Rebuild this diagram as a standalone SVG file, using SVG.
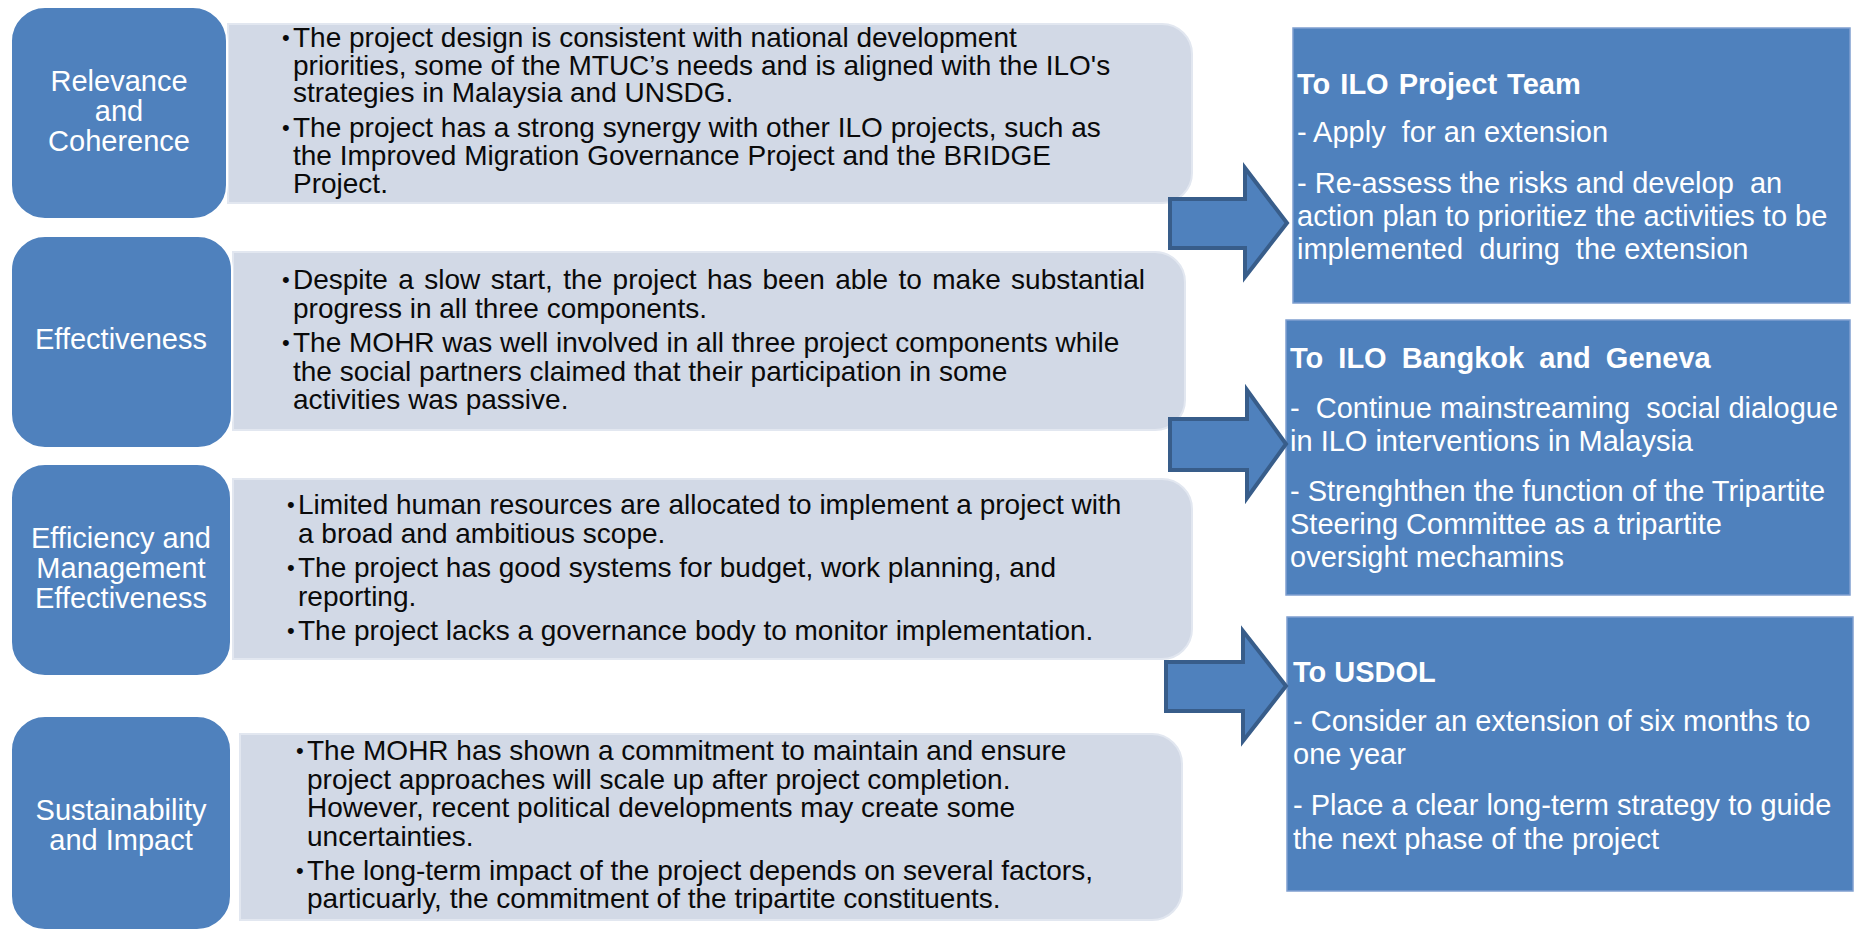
<svg xmlns="http://www.w3.org/2000/svg" width="1859" height="932" viewBox="0 0 1859 932">
  <style>
    .cat { fill: #4F81BD; stroke: #FFFFFF; stroke-width: 2; }
    .detail { fill: #D2D9E6; stroke: #E2E7F0; stroke-width: 2; }
    .rec { fill: #4F81BD; stroke: #7F9FD0; stroke-width: 1.5; }
    .arrow { fill: #4F81BD; stroke: #385D8A; stroke-width: 4; stroke-linejoin: miter; }
    .lbl { font-family: "Liberation Sans", Arial, sans-serif; font-size: 29px; fill: #FFFFFF; text-anchor: middle; }
    .txt { font-family: "Liberation Sans", Arial, sans-serif; font-size: 28px; fill: #0A0A0A; white-space: pre; }
    .bul { font-family: "Liberation Sans", Arial, sans-serif; font-size: 22px; fill: #0A0A0A; }
    .rtxt { font-family: "Liberation Sans", Arial, sans-serif; font-size: 29px; fill: #FFFFFF; white-space: pre; }
    .rhead { font-family: "Liberation Sans", Arial, sans-serif; font-size: 29px; font-weight: bold; fill: #FFFFFF; white-space: pre; }
  </style>
  <rect width="1859" height="932" fill="#FFFFFF"/>

  <!-- detail panels (drawn first so the category tiles sit over their left edge) -->
  <g id="detail-relevance">
    <path class="detail" d="M228,24 H1162 A30,30 0 0 1 1192,54 V173 A30,30 0 0 1 1162,203 H228 Z"/>
    <text class="bul" x="282" y="45">•</text>
    <text class="txt" x="293" y="47">The project design is consistent with national development</text>
    <text class="txt" x="293" y="74.5">priorities, some of the MTUC’s needs and is aligned with the ILO's</text>
    <text class="txt" x="293" y="102">strategies in Malaysia and UNSDG.</text>
    <text class="bul" x="282" y="134.5">•</text>
    <text class="txt" x="293" y="136.5">The project has a strong synergy with other ILO projects, such as</text>
    <text class="txt" x="293" y="164.5">the Improved Migration Governance Project and the BRIDGE</text>
    <text class="txt" x="293" y="192.5">Project.</text>
  </g>

  <g id="detail-effectiveness">
    <path class="detail" d="M233,252 H1155 A30,30 0 0 1 1185,282 V400 A30,30 0 0 1 1155,430 H233 Z"/>
    <text class="bul" x="282" y="287">•</text>
    <text class="txt" x="293" y="289" word-spacing="2.6">Despite a slow start, the project has been able to make substantial</text>
    <text class="txt" x="293" y="318">progress in all three components.</text>
    <text class="bul" x="282" y="350">•</text>
    <text class="txt" x="293" y="352">The MOHR was well involved in all three project components while</text>
    <text class="txt" x="293" y="380.5">the social partners claimed that their participation in some</text>
    <text class="txt" x="293" y="409">activities was passive.</text>
  </g>

  <g id="detail-efficiency">
    <path class="detail" d="M233,479 H1162 A30,30 0 0 1 1192,509 V629 A30,30 0 0 1 1162,659 H233 Z"/>
    <text class="bul" x="287" y="512">•</text>
    <text class="txt" x="298" y="514">Limited human resources are allocated to implement a project with</text>
    <text class="txt" x="298" y="542.5">a broad and ambitious scope.</text>
    <text class="bul" x="287" y="575">•</text>
    <text class="txt" x="298" y="577">The project has good systems for budget, work planning, and</text>
    <text class="txt" x="298" y="605.5">reporting.</text>
    <text class="bul" x="287" y="638">•</text>
    <text class="txt" x="298" y="640">The project lacks a governance body to monitor implementation.</text>
  </g>

  <g id="detail-sustainability">
    <path class="detail" d="M240,734 H1152 A30,30 0 0 1 1182,764 V890 A30,30 0 0 1 1152,920 H240 Z"/>
    <text class="bul" x="296" y="758">•</text>
    <text class="txt" x="307" y="760">The MOHR has shown a commitment to maintain and ensure</text>
    <text class="txt" x="307" y="788.5">project approaches will scale up after project completion.</text>
    <text class="txt" x="307" y="817">However, recent political developments may create some</text>
    <text class="txt" x="307" y="845.5">uncertainties.</text>
    <text class="bul" x="296" y="877.5">•</text>
    <text class="txt" x="307" y="879.5">The long-term impact of the project depends on several factors,</text>
    <text class="txt" x="307" y="908">particuarly, the commitment of the tripartite constituents.</text>
  </g>

  <!-- category tiles -->
  <g id="cat-relevance">
    <rect class="cat" x="11" y="7" width="216" height="212" rx="34"/>
    <text class="lbl" x="119" y="91">Relevance</text>
    <text class="lbl" x="119" y="121">and</text>
    <text class="lbl" x="119" y="151">Coherence</text>
  </g>
  <g id="cat-effectiveness">
    <rect class="cat" x="11" y="236" width="221" height="212" rx="34"/>
    <text class="lbl" x="121" y="349">Effectiveness</text>
  </g>
  <g id="cat-efficiency">
    <rect class="cat" x="11" y="464" width="220" height="212" rx="34"/>
    <text class="lbl" x="121" y="548">Efficiency and</text>
    <text class="lbl" x="121" y="578">Management</text>
    <text class="lbl" x="121" y="608">Effectiveness</text>
  </g>
  <g id="cat-sustainability">
    <rect class="cat" x="11" y="716" width="220" height="214" rx="34"/>
    <text class="lbl" x="121" y="820">Sustainability</text>
    <text class="lbl" x="121" y="850">and Impact</text>
  </g>

  <!-- recommendation boxes -->
  <g id="rec-project-team">
    <rect class="rec" x="1293" y="28" width="557" height="275"/>
    <text class="rhead" x="1297" y="94" word-spacing="2">To ILO Project Team</text>
    <text class="rtxt" x="1297" y="142">- Apply  for an extension</text>
    <text class="rtxt" x="1297" y="193">- Re-assess the risks and develop  an</text>
    <text class="rtxt" x="1297" y="226">action plan to prioritiez the activities to be</text>
    <text class="rtxt" x="1297" y="259">implemented  during  the extension</text>
  </g>
  <g id="rec-bangkok-geneva">
    <rect class="rec" x="1286" y="320" width="564" height="275"/>
    <text class="rhead" x="1290" y="368" word-spacing="7">To ILO Bangkok and Geneva</text>
    <text class="rtxt" x="1290" y="418">-  Continue mainstreaming  social dialogue</text>
    <text class="rtxt" x="1290" y="451">in ILO interventions in Malaysia</text>
    <text class="rtxt" x="1290" y="501">- Strenghthen the function of the Tripartite</text>
    <text class="rtxt" x="1290" y="534">Steering Committee as a tripartite</text>
    <text class="rtxt" x="1290" y="567">oversight mechamins</text>
  </g>
  <g id="rec-usdol">
    <rect class="rec" x="1287" y="617" width="566" height="274"/>
    <text class="rhead" x="1293" y="682">To USDOL</text>
    <text class="rtxt" x="1293" y="731">- Consider an extension of six months to</text>
    <text class="rtxt" x="1293" y="764">one year</text>
    <text class="rtxt" x="1293" y="815">- Place a clear long-term strategy to guide</text>
    <text class="rtxt" x="1293" y="849">the next phase of the project</text>
  </g>

  <!-- connectors: block arrows into the recommendation boxes -->
  <g id="connectors">
    <polygon class="arrow" points="1170,199 1245,199 1245,168 1287,223 1245,277 1245,248 1170,248"/>
    <polygon class="arrow" points="1170,419 1247,419 1247,390 1286,444 1247,498 1247,470 1170,470"/>
    <polygon class="arrow" points="1166,662 1243,662 1243,631 1286,686 1243,741 1243,711 1166,711"/>
  </g>
</svg>
